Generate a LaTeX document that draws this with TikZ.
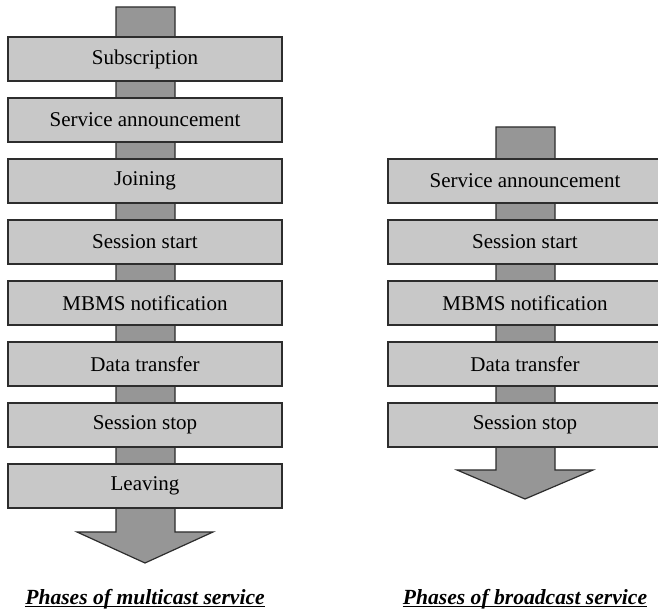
\documentclass[tikz,border=0pt]{standalone}
\usepackage{fontspec}
\setmainfont{Liberation Serif}
\definecolor{boxgray}{RGB}{200,200,200}
\definecolor{shaftgray}{RGB}{150,150,150}
\definecolor{edgegray}{RGB}{45,45,45}

\begin{document}
\begin{tikzpicture}[x=0.5pt, y=-0.5pt, every node/.style={font=\fontsize{10.5}{12}\selectfont}]
	\tikzset{
		phase/.style={draw=edgegray, line width=0.6pt, fill=boxgray, minimum width=137pt, minimum height=22pt, inner sep=0pt},
		shaft/.style={draw=edgegray, line width=0.6pt, fill=shaftgray},
		caption/.style={font=\fontsize{10.8}{12}\selectfont\bfseries\itshape, anchor=base, inner sep=0pt}
	}
	\clip (0,0) rectangle (658,613);
	% big arrows behind the boxes
	\draw[shaft] (116,7) -- (175,7) -- (175,532) -- (213,532) -- (145,563) -- (77,532) -- (116,532) -- cycle;
	\draw[shaft] (496,127) -- (555,127) -- (555,470) -- (593,470) -- (525,499) -- (457,470) -- (496,470) -- cycle;
	% multicast phases
	\foreach \k/\t in {0/Subscription, 1/Service announcement, 2/Joining, 3/Session start, 4/MBMS notification, 5/Data transfer, 6/Session stop, 7/Leaving} {
		\node[phase] (m\k) at (145,59+61*\k) {\t};
	}
	% broadcast phases
	\foreach \k/\t in {0/Service announcement, 1/Session start, 2/MBMS notification, 3/Data transfer, 4/Session stop} {
		\node[phase] (b\k) at (525,181+61*\k) {\t};
	}
	\node[caption] (mcap) at (145,604) {Phases of multicast service};
	\node[caption] (bcap) at (525,604) {Phases of broadcast service};
	\foreach \c in {mcap, bcap}
		\draw[line width=0.8pt] ([yshift=-1.3pt]\c.base -| \c.west) -- ([yshift=-1.3pt]\c.base -| \c.east);
\end{tikzpicture}
\end{document}
